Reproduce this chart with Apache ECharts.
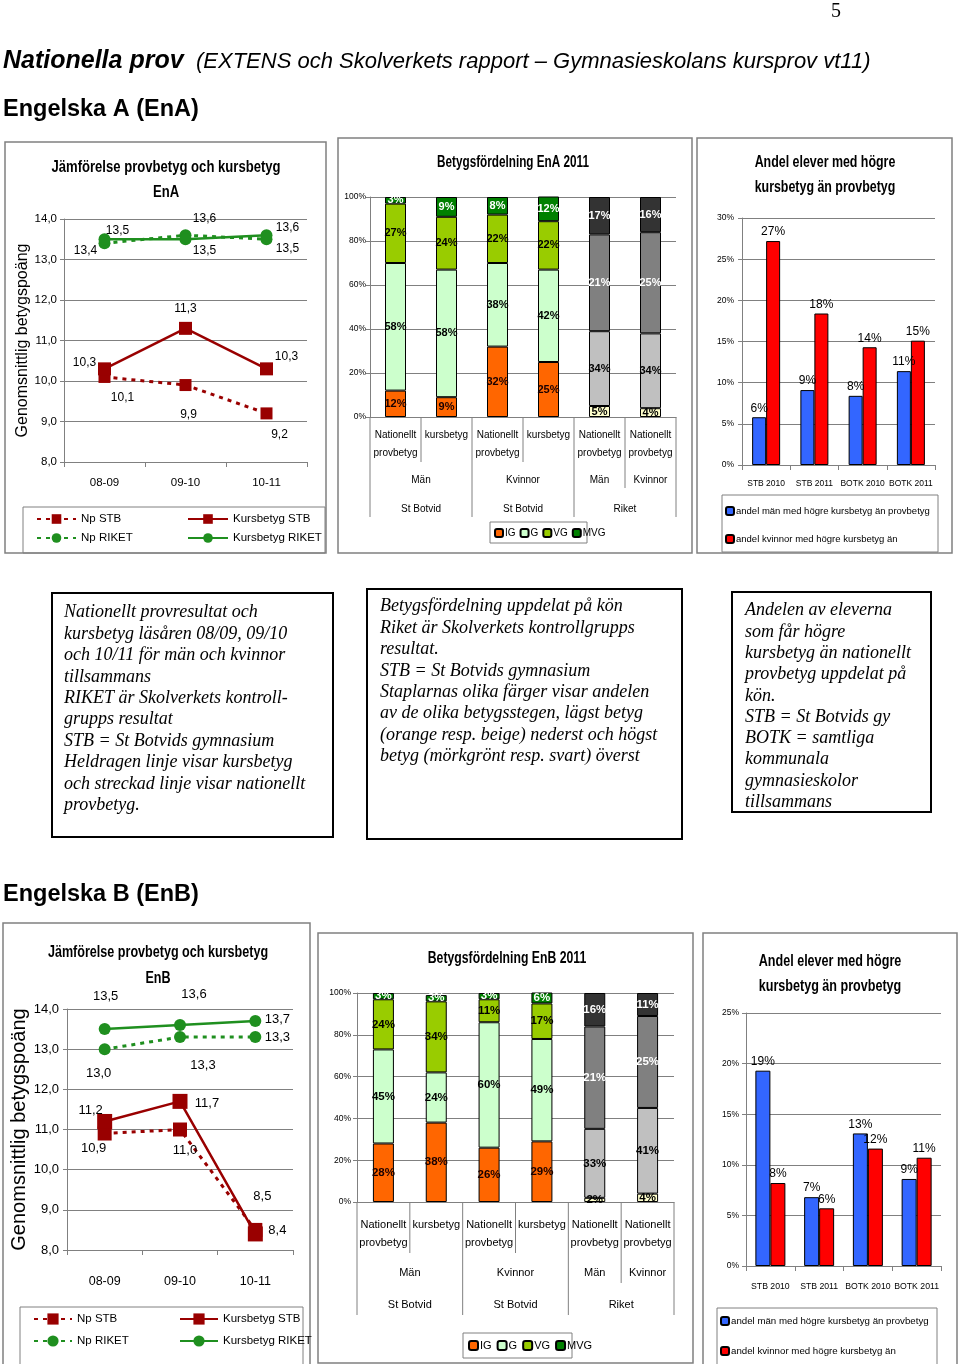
<!DOCTYPE html>
<html><head><meta charset="utf-8">
<script src="https://cdn.jsdelivr.net/npm/echarts@6/dist/echarts.min.js"></script>
<style>html,body{margin:0;padding:0;background:#fff}#c{width:960px;height:1364px}</style>
</head><body><div id="c"></div>
<script>
// ---------------- DATA ----------------
const lineYears = ['08-09', '09-10', '10-11'];
const enaNpSTB = [10.1, 9.9, 9.2];
const enaKursSTB = [10.3, 11.3, 10.3];
const enaNpRIKET = [13.4, 13.6, 13.5];
const enaKursRIKET = [13.5, 13.5, 13.6];
const enbNpSTB = [10.9, 11.0, 8.5];
const enbKursSTB = [11.2, 11.7, 8.4];
const enbNpRIKET = [13.0, 13.3, 13.3];
const enbKursRIKET = [13.5, 13.6, 13.7];
const lineNames = ['Np STB', 'Kursbetyg STB', 'Np RIKET', 'Kursbetyg RIKET'];

const distCats = ['Nationellt\nprovbetyg', 'kursbetyg', 'Nationellt\nprovbetyg', 'kursbetyg', 'Nationellt\nprovbetyg', 'Nationellt\nprovbetyg'];
const distGender = ['Män', 'Kvinnor', 'Män', 'Kvinnor'];
const distGenderSpan = [2, 2, 1, 1];
const distGroup = ['St Botvid', 'St Botvid', 'Riket'];
const distGroupSpan = [2, 2, 2];
const gradeNames = ['IG', 'G', 'VG', 'MVG'];
const enaIG = [12, 9, 32, 25, 5, 4];
const enaG = [58, 58, 38, 42, 34, 34];
const enaVG = [27, 24, 22, 22, 44, 46];
const enaMVG = [3, 9, 8, 12, 17, 16];
const enaVGLabels = ['27%', '24%', '22%', '22%', '21%', '25%'];
const enbIG = [28, 38, 26, 29, 2, 4];
const enbG = [45, 24, 60, 49, 33, 41];
const enbVG = [24, 34, 11, 17, 49, 44];
const enbMVG = [3, 3, 3, 6, 16, 11];
const enbVGLabels = ['24%', '34%', '11%', '17%', '21%', '25%'];

const shareCats = ['STB 2010', 'STB 2011', 'BOTK 2010', 'BOTK 2011'];
const shareNames = ['andel män med högre kursbetyg än provbetyg', 'andel kvinnor med högre kursbetyg än'];
const enaShareMen = [5.8, 9.1, 8.4, 11.4];
const enaShareWomen = [27.2, 18.4, 14.3, 15.1];
const enbShareMen = [19.3, 6.8, 13.1, 8.6];
const enbShareWomen = [8.2, 5.7, 11.6, 10.7];

const box1Lines = ['Nationellt provresultat och', 'kursbetyg läsåren 08/09, 09/10', 'och 10/11 för män och kvinnor', 'tillsammans', 'RIKET är Skolverkets kontroll-', 'grupps resultat', 'STB = St Botvids gymnasium', 'Heldragen linje visar kursbetyg', 'och streckad linje visar nationellt', 'provbetyg.'];
const box2Lines = ['Betygsfördelning uppdelat på kön', 'Riket är Skolverkets kontrollgrupps', 'resultat.', 'STB = St Botvids gymnasium', 'Staplarnas olika färger visar andelen', 'av de olika betygsstegen, lägst betyg', '(orange resp. beige) nederst och högst', 'betyg (mörkgrönt resp. svart) överst'];
const box3Lines = ['Andelen av eleverna', 'som får högre', 'kursbetyg än nationellt', 'provbetyg uppdelat på', 'kön.', 'STB = St Botvids gy', 'BOTK = samtliga', 'kommunala', 'gymnasieskolor', 'tillsammans'];

// ---------------- STYLE ----------------
const NARROW = "'Liberation Sans',Arial,sans-serif";
const SANS = "'Liberation Sans',Arial,sans-serif";
const SERIF = "'Liberation Serif','Times New Roman',serif";
const GRAY = '#808080';
const RED = '#990000', GREEN = '#1f8f1f';
const gradeColors = ['#FF6600', '#CCFFCC', '#99CC00', '#008000'];
const riketColors = ['#FFFFCC', '#C0C0C0', '#808080', '#333333'];
const lblSTB = ['#1a0000', '#000', '#000', '#fff'];
const lblRiket = ['#000', '#000', '#fff', '#fff'];

// label offsets (px) of line point labels
const offEna = {
  np: [[18, 21], [3, 30], [13, 21]], kurs: [[-20, -6], [0, -20], [20, -12]],
  npR: [[-19, 7], [19, -17], [21, 9]], kursR: [[13, -9], [19, 11], [21, -8]]
};
const offEnb = {
  np: [[-11, 15], [5, 21], [7, -33]], kurs: [[-14, -11], [27, 2], [22, -4]],
  npR: [[-6, 24], [23, 28], [22, 0]], kursR: [[1, -33], [14, -31], [22, -2]]
};

// grids
const G = [
  {left: 64, top: 219, width: 243, height: 243},
  {left: 370, top: 197, width: 306, height: 220},
  {left: 742, top: 218, width: 193, height: 247},
  {left: 67, top: 1009, width: 226, height: 241},
  {left: 357, top: 993, width: 317, height: 209},
  {left: 746, top: 1013, width: 195, height: 253}
];

function lineSeries(name, data, offs, idx, color, dashed, symbol, size, fs) {
  return {
    type: 'line', name, xAxisIndex: idx, yAxisIndex: idx,
    data: data.map((v, i) => ({value: v, label: {offset: offs[i]}})),
    symbol, symbolSize: size, z: dashed ? 3 : 4,
    lineStyle: {color, width: dashed ? 3 : 2.5, type: dashed ? [4, 5] : 'solid'},
    itemStyle: {color},
    label: {show: true, position: 'inside', color: '#000', fontFamily: NARROW, fontSize: fs,
      formatter: p => p.value.toFixed(1).replace('.', ',')}
  };
}
function distSeries(vals, gi, idx, labels, fs, bw) {
  return {
    type: 'bar', name: gradeNames[gi], stack: 'd' + idx, xAxisIndex: idx, yAxisIndex: idx, barWidth: bw,
    itemStyle: {color: gradeColors[gi], borderColor: '#000', borderWidth: 1},
    data: vals.map((v, i) => i >= 4 ? {value: v, itemStyle: {color: riketColors[gi]}, label: {color: lblRiket[gi]}} : {value: v}),
    label: {show: true, position: 'inside', color: lblSTB[gi], fontFamily: NARROW, fontWeight: 'bold', fontSize: fs,
      formatter: p => labels ? labels[p.dataIndex] : p.value + '%'}
  };
}
function shareSeries(name, data, idx, color, bw) {
  return {
    type: 'bar', name, xAxisIndex: idx, yAxisIndex: idx, data, barWidth: bw, barGap: '0%',
    itemStyle: {color, borderColor: '#000', borderWidth: 1},
    label: {show: true, position: 'top', distance: 3, color: '#000', fontFamily: NARROW, fontSize: 12,
      formatter: p => Math.round(p.value) + '%'}
  };
}
const axLine = {show: true, lineStyle: {color: GRAY, width: 1}};
const split = {show: true, lineStyle: {color: GRAY, width: 1}};
function catAxis(idx, data, fs, margin, ticks, lh) {
  return {
    type: 'category', gridIndex: idx, data, boundaryGap: true,
    axisLine: axLine,
    axisTick: {show: ticks, interval: 0, length: 5, alignWithLabel: false, lineStyle: {color: GRAY}},
    axisLabel: {interval: 0, color: '#000', fontFamily: NARROW, fontSize: fs, margin, lineHeight: lh}
  };
}
function valAxis(idx, min, max, interval, fmt, fs, margin, extra) {
  return Object.assign({
    type: 'value', gridIndex: idx, min, max, interval,
    axisLine: axLine, axisTick: {show: true, length: 4, lineStyle: {color: GRAY}},
    splitLine: split,
    axisLabel: {color: '#000', fontFamily: NARROW, fontSize: fs, margin, formatter: fmt}
  }, extra || {});
}
const commaFmt = v => v.toFixed(1).replace('.', ',');
const pctFmt = v => v + '%';

// ---------------- GRAPHIC ----------------
function T(text, x, y, o) {
  o = o || {};
  return {
    type: 'text', x, y, z: 10, silent: true, scaleX: o.sx || 1,
    style: {
      text, fill: o.fill || '#000', fontSize: o.fs || 12, fontFamily: o.ff || NARROW,
      fontWeight: o.fw || 'normal', fontStyle: o.fst || 'normal',
      textAlign: o.align || 'left', align: o.align || 'left',
      textVerticalAlign: o.va || 'middle', verticalAlign: o.va || 'middle',
      lineHeight: o.lh
    }
  };
}
function R(x, y, w, h, stroke, lw) {
  return {type: 'rect', z: 1, silent: true, shape: {x, y, width: w, height: h}, style: {fill: 'none', stroke, lineWidth: lw}};
}
function distDecor(g, longY, shortY, midY, g2y, g3y, fs) {
  const cw = g.width / 6, L = g.left, ay = g.top + g.height, out = [];
  const ends = [longY, shortY, longY, shortY, longY, midY, longY];
  ends.forEach((e, i) => out.push({type: 'line', silent: true, z: 2,
    shape: {x1: L + i * cw, y1: ay, x2: L + i * cw, y2: e}, style: {stroke: GRAY, lineWidth: 1}}));
  let s = 0;
  distGender.forEach((t, i) => { out.push(T(t, L + (s + distGenderSpan[i] / 2) * cw, g2y, {fs, align: 'center'})); s += distGenderSpan[i]; });
  s = 0;
  distGroup.forEach((t, i) => { out.push(T(t, L + (s + distGroupSpan[i] / 2) * cw, g3y, {fs, align: 'center'})); s += distGroupSpan[i]; });
  return out;
}

const graphics = [
  T('5', 831, 12, {ff: SERIF, fs: 20}),
  T('Nationella prov', 3, 61, {ff: SANS, fs: 25, fw: 'bold', fst: 'italic'}),
  T('(EXTENS och Skolverkets rapport – Gymnasieskolans kursprov vt11)', 196, 62, {ff: SANS, fs: 22, fst: 'italic'}),
  T('Engelska A (EnA)', 3, 110, {ff: SANS, fs: 23.5, fw: 'bold'}),
  T('Engelska B (EnB)', 3, 895, {ff: SANS, fs: 23.5, fw: 'bold'}),
  // chart frames
  R(5, 142, 321, 411, GRAY, 1.5), R(338, 138, 354, 415, GRAY, 1.5), R(697, 138, 255, 415, GRAY, 1.5),
  R(3, 923, 307, 450, GRAY, 1.5), R(318, 933, 375, 430, GRAY, 1.5), R(703, 933, 254, 440, GRAY, 1.5),
  // legend frames
  R(23, 507, 302, 46, GRAY, 1), R(490, 522, 97, 21, GRAY, 1), R(722, 495, 216, 57, GRAY, 1),
  R(20, 1307, 283, 60, GRAY, 1), R(463, 1333, 109, 25, GRAY, 1), R(717, 1308, 220, 60, GRAY, 1),
  // chart titles (condensed look via scaleX)
  T('Jämförelse provbetyg och kursbetyg\nEnA', 166, 180, {fs: 17, fw: 'bold', align: 'center', lh: 25, sx: 0.77}),
  T('Betygsfördelning EnA 2011', 513, 162, {fs: 17, fw: 'bold', align: 'center', sx: 0.69}),
  T('Andel elever med högre\nkursbetyg än provbetyg', 825, 175, {fs: 17, fw: 'bold', align: 'center', lh: 25, sx: 0.73}),
  T('Jämförelse provbetyg och kursbetyg\nEnB', 158, 965, {fs: 17, fw: 'bold', align: 'center', lh: 26, sx: 0.74}),
  T('Betygsfördelning EnB 2011', 507, 958, {fs: 17, fw: 'bold', align: 'center', sx: 0.72}),
  T('Andel elever med högre\nkursbetyg än provbetyg', 830, 974, {fs: 17, fw: 'bold', align: 'center', lh: 25, sx: 0.74}),
  // text boxes
  R(52, 593, 281, 244, '#000', 2), R(367, 589, 315, 250, '#000', 2), R(732, 592, 199, 220, '#000', 2),
  T(box1Lines.join('\n'), 64, 602, {ff: SERIF, fs: 18, fst: 'italic', va: 'top', lh: 21.4}),
  T(box2Lines.join('\n'), 380, 596, {ff: SERIF, fs: 18, fst: 'italic', va: 'top', lh: 21.4}),
  T(box3Lines.join('\n'), 745, 600, {ff: SERIF, fs: 18, fst: 'italic', va: 'top', lh: 21.3})
].concat(
  distDecor(G[1], 517, 462, 488, 480, 509, 10),
  distDecor(G[4], 1315, 1253, 1283, 1273, 1305, 11)
);

const legText = fs => ({fontFamily: NARROW, fontSize: fs, color: '#000'});

// ---------------- OPTION ----------------
const option = {
  animation: false,
  backgroundColor: '#fff',
  grid: G.map(g => Object.assign({containLabel: false}, g)),
  xAxis: [
    catAxis(0, lineYears, 11.5, 15, true),
    catAxis(1, distCats, 10, 9, false, 18),
    catAxis(2, shareCats, 8.5, 14, true),
    catAxis(3, lineYears, 12.5, 25, true),
    catAxis(4, distCats, 11, 14, false, 18),
    catAxis(5, shareCats, 8.7, 16, true)
  ],
  yAxis: [
    valAxis(0, 8, 14, 1, commaFmt, 11.5, 7, {name: 'Genomsnittlig betygspoäng', nameLocation: 'middle', nameRotate: 90, nameGap: 29,
      nameTextStyle: {color: '#000', fontFamily: SANS, fontSize: 16}}),
    valAxis(1, 0, 100, 20, pctFmt, 8.5, 4),
    valAxis(2, 0, 30, 5, pctFmt, 8.5, 8),
    valAxis(3, 8, 14, 1, commaFmt, 13, 8, {name: 'Genomsnittlig betygspoäng', nameLocation: 'middle', nameRotate: 90, nameGap: 32,
      nameTextStyle: {color: '#000', fontFamily: SANS, fontSize: 20}}),
    valAxis(4, 0, 100, 20, pctFmt, 8.5, 6),
    valAxis(5, 0, 25, 5, pctFmt, 8.5, 7)
  ],
  legend: [
    {data: ['Np STB', 'Np RIKET'], orient: 'vertical', left: 36, top: 513, padding: 0, itemWidth: 39, itemHeight: 12, itemGap: 7,
      textStyle: legText(11.5), selectedMode: false},
    {data: ['Kursbetyg STB', 'Kursbetyg RIKET'], orient: 'vertical', left: 187, top: 513, padding: 0, itemWidth: 40, itemHeight: 12, itemGap: 7,
      textStyle: legText(11.5), selectedMode: false},
    {data: gradeNames, left: 494, top: 528, padding: 0, itemWidth: 8, itemHeight: 8, itemGap: 4,
      textStyle: Object.assign(legText(10), {padding: [0, 0, 0, -3]}), selectedMode: false},
    {data: shareNames, orient: 'vertical', left: 725, top: 506, padding: 0, itemWidth: 8, itemHeight: 8, itemGap: 18,
      textStyle: Object.assign(legText(9.5), {padding: [0, 0, 0, -3]}), selectedMode: false},
    {data: ['Np STB', 'Np RIKET'], orient: 'vertical', left: 33, top: 1313, padding: 0, itemWidth: 38, itemHeight: 14, itemGap: 10,
      textStyle: legText(11.5), selectedMode: false},
    {data: ['Kursbetyg STB', 'Kursbetyg RIKET'], orient: 'vertical', left: 179, top: 1313, padding: 0, itemWidth: 38, itemHeight: 14, itemGap: 10,
      textStyle: legText(11.5), selectedMode: false},
    {data: gradeNames, left: 468, top: 1340, padding: 0, itemWidth: 9, itemHeight: 9, itemGap: 5,
      textStyle: Object.assign(legText(11), {padding: [0, 0, 0, -3]}), selectedMode: false},
    {data: shareNames, orient: 'vertical', left: 720, top: 1316, padding: 0, itemWidth: 8, itemHeight: 8, itemGap: 20,
      textStyle: Object.assign(legText(9.7), {padding: [0, 0, 0, -3]}), selectedMode: false}
  ],
  series: [
    lineSeries(lineNames[0], enaNpSTB, offEna.np, 0, RED, true, 'rect', 12, 12),
    lineSeries(lineNames[1], enaKursSTB, offEna.kurs, 0, RED, false, 'rect', 13, 12),
    lineSeries(lineNames[2], enaNpRIKET, offEna.npR, 0, GREEN, true, 'circle', 12, 12),
    lineSeries(lineNames[3], enaKursRIKET, offEna.kursR, 0, GREEN, false, 'circle', 12, 12),
    distSeries(enaIG, 0, 1, null, 11, 21),
    distSeries(enaG, 1, 1, null, 11, 21),
    distSeries(enaVG, 2, 1, enaVGLabels, 11, 21),
    distSeries(enaMVG, 3, 1, null, 11, 21),
    shareSeries(shareNames[0], enaShareMen, 2, '#3366FF', 14),
    shareSeries(shareNames[1], enaShareWomen, 2, '#FF0000', 14),
    lineSeries(lineNames[0], enbNpSTB, offEnb.np, 3, RED, true, 'rect', 14, 13),
    lineSeries(lineNames[1], enbKursSTB, offEnb.kurs, 3, RED, false, 'rect', 15, 13),
    lineSeries(lineNames[2], enbNpRIKET, offEnb.npR, 3, GREEN, true, 'circle', 12, 13),
    lineSeries(lineNames[3], enbKursRIKET, offEnb.kursR, 3, GREEN, false, 'circle', 12, 13),
    distSeries(enbIG, 0, 4, null, 11.5, 21),
    distSeries(enbG, 1, 4, null, 11.5, 21),
    distSeries(enbVG, 2, 4, enbVGLabels, 11.5, 21),
    distSeries(enbMVG, 3, 4, null, 11.5, 21),
    shareSeries(shareNames[0], enbShareMen, 5, '#3366FF', 15),
    shareSeries(shareNames[1], enbShareWomen, 5, '#FF0000', 15)
  ],
  graphic: {elements: graphics}
};
const chart = echarts.init(document.getElementById('c'), null, {renderer: 'canvas'});
chart.setOption(option);
</script>
</body></html>
